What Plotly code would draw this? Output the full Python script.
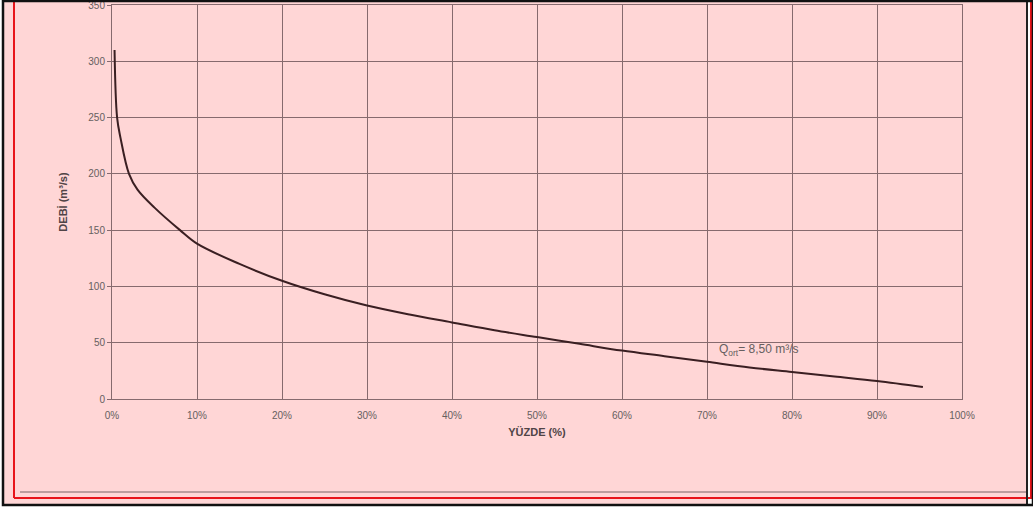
import plotly.graph_objects as go

# Flow duration curve
percent = [0.3, 0.6, 1, 2, 3, 5, 8, 10, 15, 20, 25, 30, 35, 40, 45, 50, 55, 60, 65, 70, 75, 80, 85, 90, 95.4]
debi = [310, 250, 232, 200, 186, 170, 150, 138, 120, 105, 93, 83, 75, 68, 61, 55, 49, 43, 38, 33, 28, 24, 20, 16, 10.7]

x_ticks = [0, 10, 20, 30, 40, 50, 60, 70, 80, 90, 100]
y_ticks = [0, 50, 100, 150, 200, 250, 300, 350]

W, H = 1033, 507
L, R, T, B = 112, 71, 5, 108
PW, PH = W - L - R, H - T - B

def px(x):
    return (x - L) / PW

def py(y):
    return 1 - (y - T) / PH

grid = "#866a6e"
txt = "#666060"
fig = go.Figure()
fig.add_trace(go.Scatter(x=percent, y=debi, mode="lines", line=dict(color="#3a1f22", width=2, shape="spline"),
                         hoverinfo="skip", showlegend=False))

fig.add_annotation(x=71.2, y=33, xref="x", yref="y", xanchor="left", yanchor="bottom", yshift=2,
                   text="Q<sub>ort</sub>= 8,50 m³/s", showarrow=False,
                   font=dict(family="Liberation Sans, Arial", size=12, color=txt))

shapes = [
    dict(type="rect", xref="paper", yref="paper", x0=px(3), x1=px(1027), y0=py(1), y1=py(505),
         fillcolor="#ffd6d6", line=dict(width=0), layer="below"),
    dict(type="line", xref="paper", yref="paper", x0=px(14), x1=px(14), y0=py(2), y1=py(498),
         line=dict(color="#e8141a", width=2)),
    dict(type="line", xref="paper", yref="paper", x0=px(14), x1=px(1033), y0=py(498), y1=py(498),
         line=dict(color="#e8141a", width=2)),
    dict(type="line", xref="paper", yref="paper", x0=px(1031), x1=px(1031), y0=py(2), y1=py(498),
         line=dict(color="#e8141a", width=2)),
    dict(type="line", xref="paper", yref="paper", x0=px(20), x1=px(1027), y0=py(492), y1=py(492),
         line=dict(color="#7a6366", width=1)),
    dict(type="line", xref="paper", yref="paper", x0=px(1027), x1=px(1027), y0=py(1), y1=py(505),
         line=dict(color="#222", width=2)),
    dict(type="rect", xref="paper", yref="paper", x0=px(3), x1=px(1033), y0=py(1), y1=py(505),
         line=dict(color="#111", width=2.5), fillcolor="rgba(0,0,0,0)"),
]
fig.update_layout(shapes=shapes)

fig.update_layout(
    width=W, height=H,
    margin=dict(l=L, r=R, t=T, b=B, pad=0, autoexpand=False),
    paper_bgcolor="white",
    plot_bgcolor="rgba(0,0,0,0)",
    font=dict(family="Liberation Sans, Arial", color=txt),
    xaxis=dict(range=[0, 100], tickvals=x_ticks, ticktext=[f"{v}%" for v in x_ticks],
               showgrid=True, gridcolor=grid, gridwidth=1, zeroline=False,
               showline=True, linecolor=grid, linewidth=1, mirror=True, automargin=False,
               ticks="", tickfont=dict(size=10, color=txt), ticklabelstandoff=7,
               ticklabeloverflow="allow",
               title=dict(text="<b>YÜZDE (%)</b>", font=dict(size=11, color="#504446"), standoff=8)),
    yaxis=dict(range=[0, 350], tickvals=y_ticks,
               showgrid=True, gridcolor=grid, gridwidth=1, zeroline=False,
               showline=True, linecolor=grid, linewidth=1, mirror=True, automargin=False,
               ticks="outside", ticklen=4, tickcolor=grid, tickfont=dict(size=10, color=txt),
               ticklabeloverflow="allow",
               title=dict(text="<b>DEBİ (m³/s)</b>", font=dict(size=11, color="#504446"), standoff=18)),
)

fig.write_html("out.html", config={"displayModeBar": False},
               post_script="document.body.style.margin='0';document.body.style.overflow='hidden';")
